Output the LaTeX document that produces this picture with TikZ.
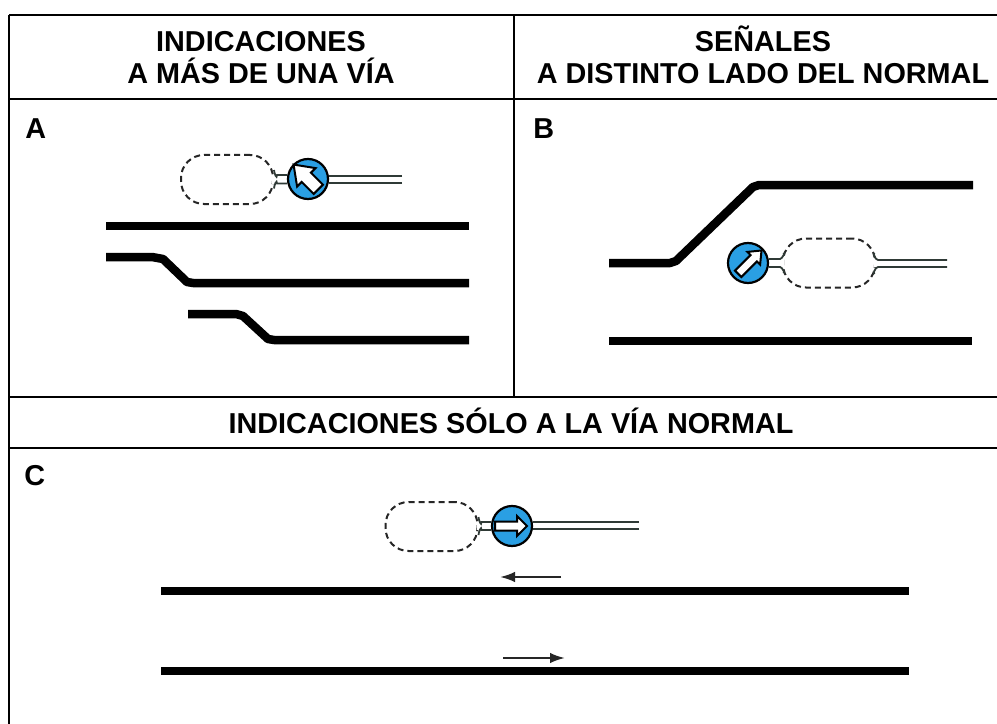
\documentclass[tikz,border=0pt]{standalone}
\usepackage{fontspec}
\setmainfont{Liberation Sans}
\usetikzlibrary{arrows.meta}
\definecolor{signblue}{HTML}{2A9FE3}
\definecolor{wire}{HTML}{2F3A36}
\tikzset{
  x=0.75pt,y=-0.75pt,
  frame/.style={draw=black,line width=2.4*0.75pt},
  framethick/.style={draw=black,line width=2.6*0.75pt},
  head/.style={font=\fontsize{21.6}{25}\selectfont\bfseries,anchor=base,inner sep=0pt},
  letter/.style={font=\fontsize{21.6}{25}\selectfont\bfseries,anchor=base west,inner sep=0pt},
  track/.style={draw=black,line width=8.5*0.75pt,line join=round},
  wireline/.style={draw=wire,line width=1.8*0.75pt},
  dir/.style={draw=black!85,line width=2.2*0.75pt,-{Latex[length=15*0.75pt,width=10.5*0.75pt]}},
  sign/.style={circle,draw=black,fill=signblue,line width=2.2*0.75pt,minimum size=40*0.75pt,inner sep=0pt},
  panel/.style={draw=black!85,line width=2*0.75pt,dash pattern=on 6*0.75pt off 4*0.75pt,rounded corners=23*0.75pt,minimum width=92*0.75pt,minimum height=49*0.75pt,inner sep=0pt},
  gap/.style={draw=white,line width=4*0.75pt},
  pics/fat/.style args={#1/#2/#3/#4}{code={
    \draw[fill=white,draw=black,line width=2*0.75pt,line join=miter]
      (-16,-#1)--(#2,-#1)--(#2,-#3)--(#4,0)--(#2,#3)--(#2,#1)--(-16,#1)--cycle;}},
}
\begin{document}
\begin{tikzpicture}
\useasboundingbox (0,0) rectangle (997,724);
\fill[white] (0,0) rectangle (997,724);
% frame
\coordinate (tl) at (9,15); \coordinate (tr) at (997,15);
\coordinate (bl) at (9,724);
\coordinate (ml) at (9,99); \coordinate (mr) at (997,99);
\coordinate (nl) at (9,397); \coordinate (nr) at (997,397);
\coordinate (pl) at (9,448); \coordinate (pr) at (997,448);
\coordinate (ct) at (514,15); \coordinate (cb) at (514,397);
\draw[frame] (tl)--(tr);
\draw[frame] (ml)--(mr);
\draw[frame] (nl)--(nr);
\draw[frame] (pl)--(pr);
\draw[frame] (ct)--(cb);
\draw[framethick] (tl)--(bl);
% headings
\node[head] (h1a) at (261,51.5) {INDICACIONES};
\node[head] (h1b) at (261,84) {A MÁS DE UNA VÍA};
\node[head] (h2a) at (763,51.5) {SEÑALES};
\node[head] (h2b) at (763,84) {A DISTINTO LADO DEL NORMAL};
\node[head] (h3) at (511,433) {INDICACIONES SÓLO A LA VÍA NORMAL};
\node[letter] (la) at (25,138) {A};
\node[letter] (lb) at (533,138) {B};
\node[letter] (lc) at (24,485) {C};
% tracks A
\coordinate (a1) at (106,226); \coordinate (a2) at (469,226);
\coordinate (b1) at (106,257); \coordinate (b2) at (152,257); \coordinate (b3) at (163,259); \coordinate (b4) at (187,282); \coordinate (b4b) at (193,283); \coordinate (b5) at (469,283);
\coordinate (d1) at (188,314); \coordinate (d2) at (236,314); \coordinate (d3) at (243,316); \coordinate (d4) at (268,339); \coordinate (d4b) at (274,340); \coordinate (d5) at (469,340);
\draw[track] (a1)--(a2);
\draw[track] (b1)--(b2)--(b3)--(b4)--(b4b)--(b5);
\draw[track] (d1)--(d2)--(d3)--(d4)--(d4b)--(d5);
% tracks B
\coordinate (e1) at (609,263); \coordinate (e2) at (670,263); \coordinate (e2b) at (676,261); \coordinate (e3) at (753,187); \coordinate (e3b) at (759,185); \coordinate (e4) at (973,185);
\coordinate (f1) at (609,341); \coordinate (f2) at (972,341);
\draw[track] (e1)--(e2)--(e2b)--(e3)--(e3b)--(e4);
\draw[track] (f1)--(f2);
% tracks C
\coordinate (g1) at (161,591); \coordinate (g2) at (909,591);
\coordinate (k1) at (161,671); \coordinate (k2) at (909,671);
\draw[track] (g1)--(g2);
\draw[track] (k1)--(k2);
\coordinate (m1) at (561,577); \coordinate (m2) at (500,577);
\coordinate (q1) at (503,658); \coordinate (q2) at (565,658);
\draw[dir] (m1)--(m2);
\draw[dir] (q1)--(q2);
% signal A
\node[panel] (pa) at (227,179.5) {};
\node[sign] (sa) at (308,179) {};
\pic[rotate=135] at (307,178) {fat={6.5/1/13/19}};
\coordinate (wa1) at (402,176); \coordinate (wa2) at (402,183);
\draw[wireline] (wa1)--(sa.east |- wa1);
\draw[wireline] (wa2)--(sa.east |- wa2);
\draw[gap] (pa.east |- 0,174.5)--(pa.east |- 0,184);
\draw[wireline] (pa.east |- 0,170) .. controls +(0,3) and +(0,5) .. ++(3,5) -- (sa.west |- 0,175);
\draw[wireline] (pa.east |- 0,188.5) .. controls +(0,-3) and +(0,-5) .. ++(3,-5) -- (sa.west |- 0,183.5);
% signal B
\node[panel] (pb) at (829,263) {};
\node[sign] (sb) at (748,263) {};
\pic[rotate=45] at (749.5,262.5) {fat={4.5/6/9/17}};
\coordinate (wb1) at (947,260); \coordinate (wb2) at (947,267);
\draw[gap] (pb.west |- 0,259)--(pb.west |- 0,267);
\draw[gap] (pb.east |- 0,260)--(pb.east |- 0,267);
\draw[wireline] (wb1) -- ++(-69,0) .. controls +(-3,0) and +(-3,-3) .. ++(-3,-6);
\draw[wireline] (wb2) -- ++(-69,0) .. controls +(-3,0) and +(-3,3) .. ++(-3,6);
\draw[wireline] (sb.east |- 0,259) -- ++(11,0) .. controls +(2,0) and +(3,-3) .. ++(3,-5);
\draw[wireline] (sb.east |- 0,267) -- ++(11,0) .. controls +(2,0) and +(3,3) .. ++(3,5);
% signal C
\node[panel] (pc) at (431.5,526.5) {};
\node[sign] (sc) at (512,526) {};
\pic at (511,526) {fat={4.5/6/10/16}};
\coordinate (wc1) at (639,522); \coordinate (wc2) at (639,529);
\draw[wireline] (wc1)--(sc.east |- wc1);
\draw[wireline] (wc2)--(sc.east |- wc2);
\draw[gap] (pc.east |- 0,522)--(pc.east |- 0,530);
\draw[wireline] (pc.east |- 0,517) .. controls +(0,3) and +(0,5) .. ++(3,5) -- (sc.west |- 0,522);
\draw[wireline] (pc.east |- 0,535) .. controls +(0,-3) and +(0,-5) .. ++(3,-5) -- (sc.west |- 0,530);
\end{tikzpicture}
\end{document}
